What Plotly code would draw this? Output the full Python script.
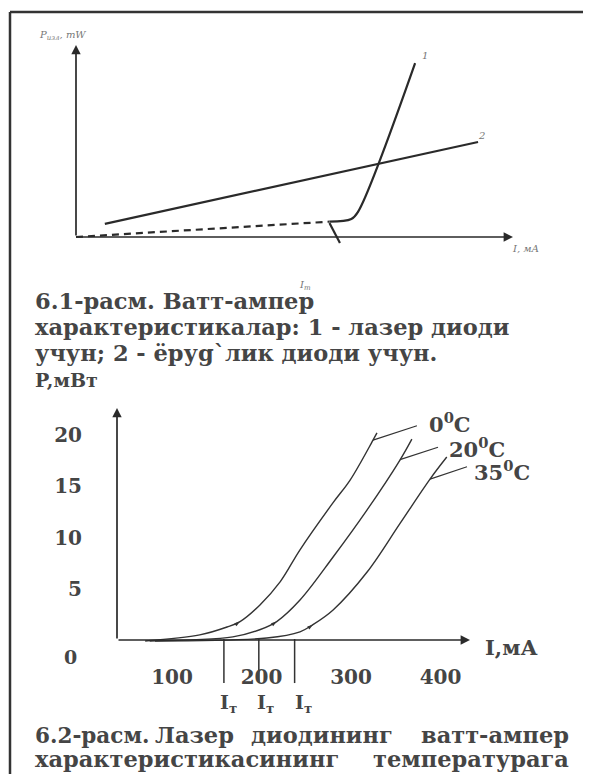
import plotly.graph_objects as go

# page has an 8px body margin: the figure is placed at (8, 8)
OX, OY = 8, 8
W, H = 591 - OX, 774 - OY
FONT = "DejaVu Serif"
INK = "#2a2a2a"

# ---------------- data: figure 6.1 (arbitrary units 0..100) ----------------
laser_dash_I = [0, 58]
laser_dash_P = [0, 8]
laser_I = [58, 63, 64.5, 77.6]
laser_P = [8, 9.4, 13, 90.6]
led_I = [6.6, 92]
led_P = [6.8, 49.5]
thr1_I = [58, 60.4]
thr1_P = [7.3, -3.1]

# ---------------- data: figure 6.2 ----------------
I_0C = [70, 131, 161.5, 176, 198, 221, 243, 280, 299, 324.6, 329]
P_0C = [-0.1, 0.5, 1.27, 1.8, 3.4, 5.7, 8.8, 13.4, 15.6, 19.5, 20.2]
I_20C = [75, 168, 198, 217, 243, 280, 318, 354.7, 368]
P_20C = [-0.1, 0.3, 1.0, 1.8, 3.9, 8.1, 12.7, 17.56, 19.6]
I_35C = [81, 206, 243, 257.5, 280, 318, 355, 388.3, 407]
P_35C = [-0.1, 0.2, 0.8, 1.5, 2.93, 6.63, 11.4, 15.7, 17.85]
mark_I = [176, 217, 257.5]
mark_P = [1.8, 1.8, 1.5]
curve_labels = ["0<sup>0</sup>C", "20<sup>0</sup>C", "35<sup>0</sup>C"]
leader_from = [(324.6, 19.5), (354.7, 17.6), (388.3, 15.7)]
leader_to = [(373.7, 20.9), (397.2, 18.8), (429.6, 16.9)]
thr_I = [158, 197, 237]
y_ticks = [5, 10, 15, 20]
x_ticks = [100, 200, 300, 400]

# ---------------- pixel layout helpers (reference page pixels) ----------------
def px(p):
    return (p - OX) / W

def py(q):
    return 1 - (q - OY) / H

# top subplot: 0 at px 76 / 237, 4.37 px per unit in x, 1.92 px per unit in y
tx0, tsx, ty0, tsy = 76, 4.37, 237, 1.92
t_dom_x = (70, 520)
t_dom_y = (40, 252)
t_xr = [(t_dom_x[0] - tx0) / tsx, (t_dom_x[1] - tx0) / tsx]
t_yr = [(ty0 - t_dom_y[1]) / tsy, (ty0 - t_dom_y[0]) / tsy]

# bottom subplot: I -> 82.5 + 0.895*I ; P -> 640 - 10.25*P
bx0, bsx, by0, bsy = 82.5, 0.895, 640, 10.25
b_dom_x = (110, 480)
b_dom_y = (400, 690)
b_xr = [(b_dom_x[0] - bx0) / bsx, (b_dom_x[1] - bx0) / bsx]
b_yr = [(by0 - b_dom_y[1]) / bsy, (by0 - b_dom_y[0]) / bsy]
b_I_axis = (117 - bx0) / bsx
b_I_tip = (470 - bx0) / bsx
b_P_tip = (by0 - 408) / bsy

fig = go.Figure()

line_top = dict(color=INK, width=2.2)
fig.add_trace(go.Scatter(x=laser_dash_I, y=laser_dash_P, mode="lines",
                         line=dict(color=INK, width=2.2, dash="7px,5px"),
                         xaxis="x", yaxis="y", showlegend=False))
fig.add_trace(go.Scatter(x=laser_I, y=laser_P, mode="lines", line=line_top,
                         line_shape="spline", xaxis="x", yaxis="y", showlegend=False))
fig.add_trace(go.Scatter(x=led_I, y=led_P, mode="lines", line=line_top,
                         xaxis="x", yaxis="y", showlegend=False))
fig.add_trace(go.Scatter(x=thr1_I, y=thr1_P, mode="lines", line=line_top,
                         xaxis="x", yaxis="y", showlegend=False))

curve_line = dict(color="#333333", width=1.4)
for xi, yi in [(I_0C, P_0C), (I_20C, P_20C), (I_35C, P_35C)]:
    fig.add_trace(go.Scatter(x=xi, y=yi, mode="lines", line=curve_line,
                             line_shape="spline", xaxis="x2", yaxis="y2", showlegend=False))
fig.add_trace(go.Scatter(x=mark_I, y=mark_P, mode="markers",
                         marker=dict(symbol="arrow", angle=55, size=6, color="#333333"),
                         xaxis="x2", yaxis="y2", showlegend=False))
for (a, b), (c, d) in zip(leader_from, leader_to):
    fig.add_trace(go.Scatter(x=[a, c], y=[b, d], mode="lines",
                             line=dict(color="#333333", width=1.2),
                             xaxis="x2", yaxis="y2", showlegend=False))
tx, ty = [], []
for v in thr_I:
    tx += [v, v, None]
    ty += [0.1, -4.2, None]
fig.add_trace(go.Scatter(x=tx, y=ty, mode="lines", line=dict(color="#333333", width=1.5),
                         xaxis="x2", yaxis="y2", showlegend=False))

ann = []
def arrow(x, y, ax, ay, xr, yr):
    ann.append(dict(x=x, y=y, ax=ax, ay=ay, xref=xr, yref=yr, axref=xr, ayref=yr,
                    text="", showarrow=True, arrowhead=2, arrowsize=1.1,
                    arrowwidth=1.7, arrowcolor=INK))

arrow(0, 100, 0, 0, "x", "y")
arrow(100, 0, 0, 0, "x", "y")
arrow(b_I_axis, b_P_tip, b_I_axis, 0, "x2", "y2")
arrow(b_I_tip, 0, b_I_axis, 0, "x2", "y2")

def text(t, x, y, size, xa="left", color=INK, italic=False, bold=False):
    ann.append(dict(text=t, x=px(x), y=py(y), xref="paper", yref="paper",
                    xanchor=xa, yanchor="middle", showarrow=False,
                    font=dict(family=FONT, size=size, color=color,
                              style="italic" if italic else "normal",
                              weight="bold" if bold else "normal")))

grey = "#777777"
text("P<sub>изл</sub>, mW", 37, 35, 10, color=grey, italic=True)
text("I, мА", 510, 248, 10, color=grey, italic=True)
text("1", 425, 55, 10, xa="center", color=grey, italic=True)
text("2", 481, 136, 10, xa="center", color=grey, italic=True)
text("I<sub>т</sub>", 305, 286, 10, xa="center", color=grey, italic=True)

cap = 22.5
CAP = "#454545"
text("6.1-расм. Ватт-ампер", 33, 301, cap, color=CAP, bold=True)
text("характеристикалар: 1 - лазер диоди", 33, 327, cap, color=CAP, bold=True)
text("учун; 2 - ёруg`лик диоди учун.", 33, 353, cap, color=CAP, bold=True)
text("P,мВт", 33, 380, 19, color=CAP, bold=True)

lab_pos = [(427, 423), (447, 448), (472, 471)]
for t, (x, y) in zip(curve_labels, lab_pos):
    text(t, x, y, 21, color=CAP, bold=True)
text("I,мА", 483, 647, 21, color=CAP, bold=True)
text("0", 70, 657, 19, xa="center", color=CAP, bold=True)
for x in (228, 265, 303):
    text("I<sub>т</sub>", x, 703, 19, xa="center", color=CAP, bold=True)

text("6.2-расм.", 33, 735, 21.5, color=CAP, bold=True)
text("Лазер", 194, 735, cap, xa="center", color=CAP, bold=True)
text("диодининг", 322, 735, cap, xa="center", color=CAP, bold=True)
text("ватт-ампер", 571, 735, cap, xa="right", color=CAP, bold=True)
text("характеристикасининг", 33, 759, cap, color=CAP, bold=True)
text("температурага", 571, 759, cap, xa="right", color=CAP, bold=True)

shapes = [
    dict(type="line", xref="paper", yref="paper", x0=px(10), x1=px(10), y0=py(12), y1=py(790),
         line=dict(color="#333333", width=2.5)),
    dict(type="line", xref="paper", yref="paper", x0=px(10), x1=px(610), y0=py(12), y1=py(12),
         line=dict(color="#333333", width=2.5)),
    dict(type="line", xref="paper", yref="paper", x0=px(588), x1=px(588), y0=py(0), y1=py(790),
         line=dict(color="#dddddd", width=1.5)),
]

tick_font = dict(family=FONT, size=20, color=CAP, weight="bold")
hidden = dict(showgrid=False, zeroline=False, showline=False, showticklabels=False, ticks="")
fig.update_layout(
    width=W, height=H, margin=dict(l=0, r=0, t=0, b=0),
    paper_bgcolor="white", plot_bgcolor="rgba(0,0,0,0)",
    showlegend=False,
    xaxis=dict(domain=[px(t_dom_x[0]), px(t_dom_x[1])], range=t_xr, anchor="y", **hidden),
    yaxis=dict(domain=[py(t_dom_y[1]), py(t_dom_y[0])], range=t_yr, anchor="x", **hidden),
    xaxis2=dict(domain=[px(b_dom_x[0]), px(b_dom_x[1])], range=b_xr, anchor="free",
                position=py(by0), showgrid=False, zeroline=False, showline=False,
                tickvals=x_ticks, ticktext=[str(v) for v in x_ticks],
                ticks="outside", ticklen=19, tickcolor="rgba(0,0,0,0)",
                tickfont=tick_font),
    yaxis2=dict(domain=[py(b_dom_y[1]), py(b_dom_y[0])], range=b_yr, anchor="free",
                position=px(117), showgrid=False, zeroline=False, showline=False,
                tickvals=y_ticks, ticktext=[str(v) for v in y_ticks],
                ticks="outside", ticklen=31, tickcolor="rgba(0,0,0,0)",
                tickfont=tick_font),
    annotations=ann, shapes=shapes,
)

fig.write_html("out.html")
